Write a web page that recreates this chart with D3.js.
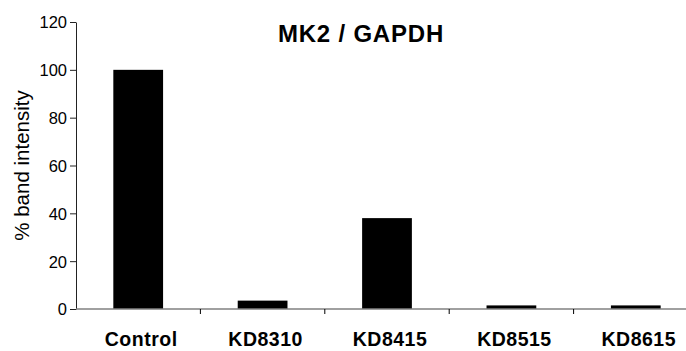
<!DOCTYPE html>
<html>
<head>
<meta charset="utf-8">
<script src="https://cdn.jsdelivr.net/npm/d3@7"></script>
<style>
  body { margin: 0; background: #fff; }
  svg text { font-family: "Liberation Sans", Arial, sans-serif; }
</style>
</head>
<body>
<div id="chart"></div>
<script>
const width = 686;
const height = 351;

const categories = ["Control", "KD8310", "KD8415", "KD8515", "KD8615"];
const values = [100, 3.5, 38, 1.5, 1.5];
const yTicks = [0, 20, 40, 60, 80, 100, 120];

// the plot runs a little past the right edge, like the original crop
const margin = { top: 22, right: -12, bottom: 42, left: 76 };

const svg = d3.select("#chart")
    .append("svg")
    .attr("width", width)
    .attr("height", height);

const x = d3.scaleBand()
    .domain(categories)
    .range([margin.left, width - margin.right])
    .paddingInner(0.6)
    .paddingOuter(0.3);

const y = d3.scaleLinear()
    .domain([0, 120])
    .range([height - margin.bottom, margin.top]);

// bars
svg.selectAll("rect.bar")
    .data(values)
    .enter()
    .append("rect")
    .attr("class", "bar")
    .attr("x", (d, i) => x(categories[i]))
    .attr("width", x.bandwidth())
    .attr("y", d => y(d))
    .attr("height", d => y(0) - y(d))
    .attr("fill", "#000");

// y axis
const yAxis = svg.append("g")
    .attr("transform", `translate(${margin.left},0)`)
    .call(d3.axisLeft(y).tickValues(yTicks).tickSize(6).tickSizeOuter(0));
yAxis.attr("font-family", null).attr("font-size", null);
yAxis.select(".domain").attr("stroke", "#222");
yAxis.selectAll(".tick line").attr("stroke", "#222");
yAxis.selectAll(".tick text")
    .attr("x", -9)
    .attr("dy", "0.36em")
    .style("font-size", "16.5px")
    .attr("fill", "#000");

// x axis line + category separators
const step = x.step();
const xAxis = svg.append("g");
xAxis.append("line")
    .attr("x1", margin.left)
    .attr("x2", width - margin.right)
    .attr("y1", y(0))
    .attr("y2", y(0))
    .attr("stroke", "#808080")
    .attr("stroke-width", 1.5);
xAxis.selectAll("line.sep")
    .data(categories.slice(1))
    .enter()
    .append("line")
    .attr("class", "sep")
    .attr("x1", d => x(d) - (step - x.bandwidth()) / 2)
    .attr("x2", d => x(d) - (step - x.bandwidth()) / 2)
    .attr("y1", y(0))
    .attr("y2", y(0) + 5)
    .attr("stroke", "#000");

xAxis.selectAll("text.cat")
    .data(categories)
    .enter()
    .append("text")
    .attr("class", "cat")
    .attr("x", d => x(d) + x.bandwidth() / 2 + 3)
    .attr("y", 346)
    .attr("text-anchor", "middle")
    .style("font-size", "19.5px")
    .style("letter-spacing", "0.5px")
    .style("font-weight", "bold")
    .text(d => d);

// y axis title
svg.append("text")
    .attr("transform", `translate(29,${(y(0) + y(120)) / 2}) rotate(-90)`)
    .attr("text-anchor", "middle")
    .style("font-size", "20.5px")
    .text("% band intensity");

// chart title
svg.append("text")
    .attr("x", 361)
    .attr("y", 42)
    .attr("text-anchor", "middle")
    .style("font-size", "24px")
    .style("letter-spacing", "0.8px")
    .style("font-weight", "bold")
    .text("MK2 / GAPDH");
</script>
</body>
</html>
